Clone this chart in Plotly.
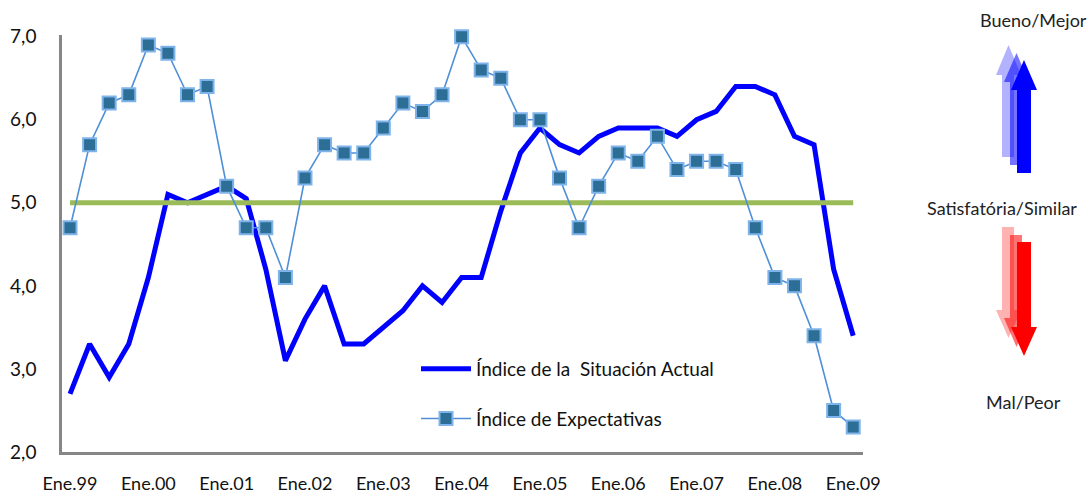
import plotly.graph_objects as go

# ---------------- data ----------------
years = ["99", "00", "01", "02", "03", "04", "05", "06", "07", "08", "09"]
months = ["Ene", "Abr", "Jul", "Oct"]
quarters = [f"{m}.{y}" for y in years[:-1] for m in months] + ["Ene.09"]
tick_labels = ["Ene.99", "Ene.00", "Ene.01", "Ene.02", "Ene.03", "Ene.04",
               "Ene.05", "Ene.06", "Ene.07", "Ene.08", "Ene.09"]

situacion_actual = [2.7, 3.3, 2.9, 3.3, 4.1, 5.1, 5.0, 5.1, 5.2, 5.05,
                    4.2, 3.1, 3.6, 4.0, 3.3, 3.3, 3.5, 3.7, 4.0, 3.8,
                    4.1, 4.1, 4.9, 5.6, 5.9, 5.7, 5.6, 5.8, 5.9, 5.9,
                    5.9, 5.8, 6.0, 6.1, 6.4, 6.4, 6.3, 5.8, 5.7, 4.2, 3.4]
expectativas = [4.7, 5.7, 6.2, 6.3, 6.9, 6.8, 6.3, 6.4, 5.2, 4.7,
                4.7, 4.1, 5.3, 5.7, 5.6, 5.6, 5.9, 6.2, 6.1, 6.3,
                7.0, 6.6, 6.5, 6.0, 6.0, 5.3, 4.7, 5.2, 5.6, 5.5,
                5.8, 5.4, 5.5, 5.5, 5.4, 4.7, 4.1, 4.0, 3.4, 2.5, 2.3]
nivel_satisfactorio = 5.0
y_ticks = [2.0, 3.0, 4.0, 5.0, 6.0, 7.0]

# ---------------- layout geometry (pixels) ----------------
W, H = 1092, 498
L, R, T, B = 62, 229, 35, 46
PW, PH = W - L - R, H - T - B


def px(x):
    return (x - L) / PW


def py(y):
    return (H - B - y) / PH


FONT = "Lato, 'Open Sans', sans-serif"

fig = go.Figure()

fig.add_trace(go.Scatter(
    x=quarters, y=situacion_actual, mode="lines",
    name="Índice de la  Situación Actual",
    line=dict(color="#0000FF", width=5),
    legendgroup="a", cliponaxis=False))

# reference line at 5
fig.add_trace(go.Scatter(
    x=[quarters[0], quarters[-1]], y=[nivel_satisfactorio, nivel_satisfactorio],
    mode="lines", line=dict(color="#9BBB59", width=5),
    showlegend=False, hoverinfo="skip"))

fig.add_trace(go.Scatter(
    x=quarters, y=expectativas, mode="lines+markers",
    name="Índice de Expectativas",
    line=dict(color="#4F8FD8", width=1.6),
    marker=dict(symbol="square", size=13, color="#2C6E96",
                line=dict(color="#7FB4EA", width=2)),
    legendgroup="b", cliponaxis=False))

# arrows on the right side
shapes = []


def arrow(x0, x1, xl, xr, y_tip, y_base, y_end, color, op):
    xm = (xl + xr) / 2
    path = (f"M {px(x0)} {py(y_end)} L {px(x0)} {py(y_base)} L {px(xl)} {py(y_base)} "
            f"L {px(xm)} {py(y_tip)} L {px(xr)} {py(y_base)} L {px(x1)} {py(y_base)} "
            f"L {px(x1)} {py(y_end)} Z")
    return dict(type="path", xref="paper", yref="paper", path=path,
                fillcolor=color, opacity=op, line=dict(width=0))


shapes.append(arrow(1002, 1014, 996, 1021, 45, 75, 157, "#0000FF", 0.3))
shapes.append(arrow(1010, 1022, 1004, 1029, 53, 82, 165, "#0000FF", 0.55))
shapes.append(arrow(1017, 1031, 1011, 1037, 60, 90, 173, "#0000FF", 1.0))
shapes.append(arrow(1002, 1014, 996, 1021, 338, 310, 227, "#FF0000", 0.3))
shapes.append(arrow(1010, 1022, 1004, 1029, 347, 318, 235, "#FF0000", 0.55))
shapes.append(arrow(1017, 1031, 1011, 1037, 356, 327, 242, "#FF0000", 1.0))

annotations = [
    dict(text="Bueno/Mejor", x=px(1033), y=py(20)),
    dict(text="Satisfatória/Similar", x=px(1002), y=py(208)),
    dict(text="Mal/Peor", x=px(1023), y=py(402)),
]
for a in annotations:
    a.update(xref="paper", yref="paper", showarrow=False, xanchor="center",
             yanchor="middle", font=dict(family=FONT, size=18, color="#222222"))

fig.update_layout(
    width=W, height=H,
    margin=dict(l=L, r=R, t=T, b=B, autoexpand=False),
    paper_bgcolor="white", plot_bgcolor="white",
    separators=",.",
    font=dict(family=FONT, size=19, color="#111111"),
    shapes=shapes, annotations=annotations,
    legend=dict(x=px(416), y=py(350), xanchor="left", yanchor="top",
                bgcolor="rgba(0,0,0,0)", font=dict(size=19),
                tracegroupgap=22, itemwidth=50, traceorder="grouped"),
    xaxis=dict(type="category", categoryorder="array", categoryarray=quarters,
               range=[-0.41, 40.5], automargin=False,
               tickmode="array", tickvals=tick_labels, ticktext=tick_labels,
               showline=True, linecolor="#868686", linewidth=2.5,
               showgrid=False, zeroline=False, ticks="",
               ticklabelstandoff=14, tickfont=dict(size=18)),
    yaxis=dict(range=[2, 7.02], tickvals=y_ticks, tickformat=".1f", automargin=False,
               showline=True, linecolor="#868686", linewidth=2.5,
               showgrid=False, zeroline=False, ticks="",
               ticklabelstandoff=19, tickfont=dict(size=19)),
)

fig.write_html("out.html", config={"displayModeBar": False},
               post_script="document.body.style.margin='0';document.body.style.overflow='hidden';")
